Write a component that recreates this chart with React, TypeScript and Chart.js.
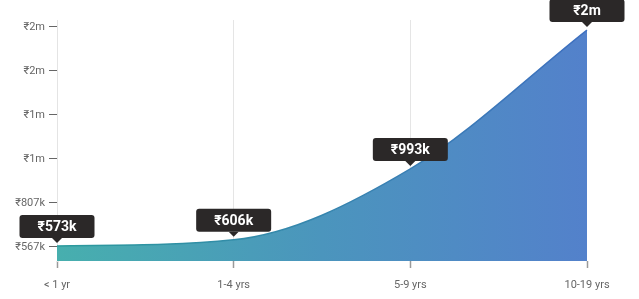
import React, { useEffect, useRef } from "react";
import { Chart, registerables } from "chart.js";

Chart.register(...registerables);

const categories = ["< 1 yr", "1-4 yrs", "5-9 yrs", "10-19 yrs"];
const salaries = [573000, 606000, 993000, 1750000];
const yTickValues = [567000, 807000, 1047000, 1287000, 1527000, 1767000];
const yMin = 490600;
const yMax = 1805000;

const fmt = (v: number) =>
  v >= 1e6 ? "₹" + Math.round(v / 1e6) + "m" : "₹" + Math.round(v / 1e3) + "k";

const labelPlugin = {
  id: "valueBoxes",
  afterDraw(chart: any) {
    const meta = chart.getDatasetMeta(0);
    const ctx = chart.ctx;
    const data = chart.data.datasets[0].data as number[];
    ctx.save();
    meta.data.forEach((pt: any, i: number) => {
      const x = pt.x;
      const y = pt.y;
      const w = 75;
      const h = 23;
      const bottom = y - 8;
      const top = bottom - h;
      const left = x - w / 2;
      ctx.fillStyle = "#2b2828";
      ctx.beginPath();
      ctx.roundRect(left, top, w, h, 3);
      ctx.fill();
      ctx.beginPath();
      ctx.moveTo(x - 5, bottom);
      ctx.lineTo(x + 5, bottom);
      ctx.lineTo(x, bottom + 5);
      ctx.closePath();
      ctx.fill();
      ctx.fillStyle = "#ffffff";
      ctx.font = "bold 14px Roboto";
      ctx.textAlign = "center";
      ctx.textBaseline = "middle";
      ctx.fillText(fmt(data[i]), x, top + h / 2 + 1);
    });
    ctx.restore();
  },
};

export default function App() {
  const ref = useRef<HTMLCanvasElement>(null);
  useEffect(() => {
    if (!ref.current) return;
    Chart.defaults.font.family = "Roboto";
    const chart = new Chart(ref.current, {
      type: "line",
      data: {
        labels: categories,
        datasets: [
          {
            data: salaries,
            fill: "start",
            cubicInterpolationMode: "monotone",
            pointRadius: 0,
            borderWidth: 1.5,
            borderColor: (c: any) => {
              const ca = c.chart.chartArea;
              if (!ca) return "#2f8f9c";
              const g = c.chart.ctx.createLinearGradient(ca.left, 0, ca.right, 0);
              g.addColorStop(0, "#2b9a9c");
              g.addColorStop(1, "#3f70c0");
              return g;
            },
            backgroundColor: (c: any) => {
              const ca = c.chart.chartArea;
              if (!ca) return "#4aa0b8";
              const g = c.chart.ctx.createLinearGradient(ca.left, 0, ca.right, 0);
              g.addColorStop(0, "#47afae");
              g.addColorStop(0.5, "#4b95bd");
              g.addColorStop(1, "#5381cb");
              return g;
            },
          },
        ],
      },
      options: {
        animation: false,
        responsive: false,
        layout: { padding: { left: 0, right: 52, top: 20, bottom: 0 } },
        plugins: { legend: { display: false }, tooltip: { enabled: false } },
        scales: {
          x: {
            z: 1,
            offset: false,
            afterFit: (s: any) => {
              s.height = 38;
            },
            border: { display: false },
            grid: {
              color: (c: any) => (c.index === 0 || c.index === categories.length - 1 ? "rgba(0,0,0,0)" : "rgba(0,0,0,0.1)"),
              tickColor: "#9a9a9a",
              tickLength: 7,
              tickWidth: 1.5,
            },
            ticks: { color: "#666", font: { size: 11 }, padding: 11, maxRotation: 0 },
          },
          y: {
            min: yMin,
            max: yMax,
            afterFit: (s: any) => {
              s.width = 57;
            },
            afterBuildTicks: (s: any) => {
              s.ticks = yTickValues.map((v) => ({ value: v }));
            },
            border: { display: true, color: "#e4e4e4", width: 1 },
            grid: {
              drawOnChartArea: false,
              tickColor: "#666",
              tickLength: 8,
            },
            ticks: {
              color: "#666",
              font: { size: 11 },
              padding: 4,
              callback: (v: any) => fmt(Number(v)),
            },
          },
        },
      },
      plugins: [labelPlugin],
    } as any);
    return () => chart.destroy();
  }, []);
  return (
    <div style={{ position: "absolute", left: 0, top: 0, width: 639, height: 299 }}>
      <canvas ref={ref} width={639} height={299} style={{ display: "block" }} />
    </div>
  );
}
